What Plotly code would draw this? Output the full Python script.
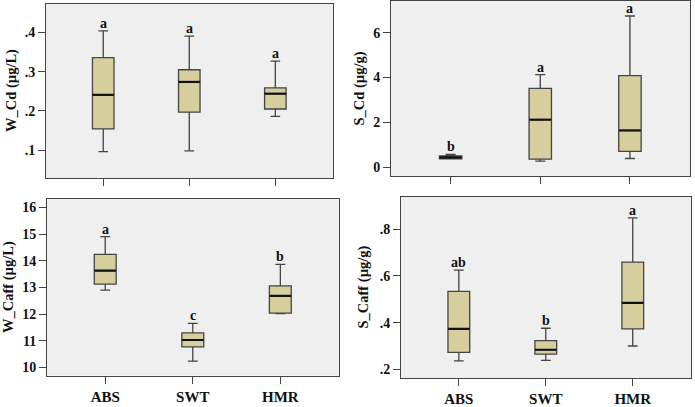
import plotly.graph_objects as go

groups = ["ABS", "SWT", "HMR"]
xpos = [0, 1, 2]

# W_Cd (µg/L)
wcd_low = [0.096, 0.098, 0.186]
wcd_q1 = [0.154, 0.197, 0.205]
wcd_med = [0.241, 0.274, 0.244]
wcd_q3 = [0.336, 0.305, 0.259]
wcd_high = [0.404, 0.391, 0.327]
wcd_letters = ["a", "a", "a"]

# S_Cd (µg/g)
scd_low = [0.37, 0.27, 0.39]
scd_q1 = [0.38, 0.36, 0.71]
scd_med = [0.44, 2.12, 1.64]
scd_q3 = [0.51, 3.52, 4.08]
scd_high = [0.57, 4.13, 6.74]
scd_letters = ["b", "a", "a"]

# W_Caff (µg/L)
wcaff_low = [12.90, 10.24, 12.02]
wcaff_q1 = [13.12, 10.77, 12.04]
wcaff_med = [13.63, 11.03, 12.68]
wcaff_q3 = [14.24, 11.30, 13.06]
wcaff_high = [14.90, 11.65, 13.86]
wcaff_letters = ["a", "c", "b"]

# S_Caff (µg/g)
scaff_low = [0.236, 0.238, 0.300]
scaff_q1 = [0.273, 0.265, 0.373]
scaff_med = [0.373, 0.284, 0.485]
scaff_q3 = [0.534, 0.323, 0.659]
scaff_high = [0.625, 0.376, 0.849]
scaff_letters = ["ab", "b", "a"]

wcd_ticks = [0.1, 0.2, 0.3, 0.4]
wcd_ticktext = [".1", ".2", ".3", ".4"]
scd_ticks = [0, 2, 4, 6]
scd_ticktext = ["0", "2", "4", "6"]
wcaff_ticks = [10, 11, 12, 13, 14, 15, 16]
wcaff_ticktext = ["10", "11", "12", "13", "14", "15", "16"]
scaff_ticks = [0.2, 0.4, 0.6, 0.8]
scaff_ticktext = [".2", ".4", ".6", ".8"]

titles = ["W_Cd (µg/L)", "S_Cd (µg/g)", "W_Caff (µg/L)", "S_Caff (µg/g)"]

W, H = 695, 407
FONT = "Liberation Serif, Times New Roman, serif"
BOXFILL = "#D6CF9D"
LINEC = "#444444"

panels = [
    dict(low=wcd_low, q1=wcd_q1, med=wcd_med, q3=wcd_q3, high=wcd_high, letters=wcd_letters,
         ticks=wcd_ticks, ticktext=wcd_ticktext, yr=[0.029, 0.473],
         px=(46, 333), py=(4, 182), title_x=12, showx=False),
    dict(low=scd_low, q1=scd_q1, med=scd_med, q3=scd_q3, high=scd_high, letters=scd_letters,
         ticks=scd_ticks, ticktext=scd_ticktext, yr=[-0.39, 7.41],
         px=(391, 690), py=(1, 180), title_x=359, showx=False),
    dict(low=wcaff_low, q1=wcaff_q1, med=wcaff_med, q3=wcaff_q3, high=wcaff_high, letters=wcaff_letters,
         ticks=wcaff_ticks, ticktext=wcaff_ticktext, yr=[9.70, 16.33],
         px=(47, 339), py=(203, 384), title_x=8, showx=True),
    dict(low=scaff_low, q1=scaff_q1, med=scaff_med, q3=scaff_q3, high=scaff_high, letters=scaff_letters,
         ticks=scaff_ticks, ticktext=scaff_ticktext, yr=[0.161, 0.94],
         px=(401, 691), py=(201, 387), title_x=363, showx=True),
]

fig = go.Figure()
annotations = []
layout = {}

for i, p in enumerate(panels):
    n = "" if i == 0 else str(i + 1)
    xa, ya = "x" + n, "y" + n
    fig.add_trace(go.Box(
        x=xpos, q1=p["q1"], median=p["med"], q3=p["q3"],
        lowerfence=p["low"], upperfence=p["high"],
        xaxis=xa, yaxis=ya, width=0.25, whiskerwidth=0.45,
        fillcolor=BOXFILL, line=dict(color=LINEC, width=1.3),
        boxpoints=False, showlegend=False, hoverinfo="skip",
    ))
    fig.add_trace(go.Scatter(
        x=xpos, y=p["med"], xaxis=xa, yaxis=ya, mode="markers",
        marker=dict(symbol="line-ew", size=15.5, line=dict(color="#111111", width=2.2)),
        showlegend=False, hoverinfo="skip",
    ))
    x0, x1 = p["px"]
    y0, y1 = p["py"]
    layout["xaxis" + n] = dict(
        domain=[x0 / W, x1 / W], anchor=ya, range=[-0.665, 2.67],
        tickvals=xpos, ticktext=groups if p["showx"] else ["", "", ""],
        showticklabels=p["showx"], ticks="outside", ticklen=7, tickwidth=1, tickcolor=LINEC,
        showgrid=False, zeroline=False, showline=True, linecolor=LINEC, linewidth=1, mirror=True,
        tickfont=dict(family=FONT, size=15, color="#111111", weight="bold"),
    )
    layout["yaxis" + n] = dict(
        domain=[1 - y1 / H, 1 - y0 / H], anchor=xa, range=p["yr"],
        tickvals=p["ticks"], ticktext=p["ticktext"], ticks="outside", ticklen=7, tickwidth=1,
        tickcolor=LINEC, showgrid=False, zeroline=False, showline=True, linecolor=LINEC,
        linewidth=1, mirror=True,
        tickfont=dict(family=FONT, size=14, color="#111111", weight="bold"),
    )
    for j, letter in enumerate(p["letters"]):
        annotations.append(dict(
            x=xpos[j], y=p["high"][j], xref=xa, yref=ya, text=letter, showarrow=False,
            yanchor="bottom", xanchor="center", yshift=-2,
            font=dict(family=FONT, size=14, color="#111111", weight="bold"),
        ))
    annotations.append(dict(
        x=p["title_x"] / W, y=1 - (y0 + y1) / 2 / H, xref="paper", yref="paper",
        text=titles[i], textangle=-90, showarrow=False, xanchor="center", yanchor="middle",
        font=dict(family=FONT, size=14.5, color="#111111", weight="bold"),
    ))

fig.update_layout(
    width=W, height=H, margin=dict(l=0, r=0, t=0, b=0),
    paper_bgcolor="white", plot_bgcolor="#EFEFEF",
    annotations=annotations, **layout,
)

fig.write_html("out.html")
